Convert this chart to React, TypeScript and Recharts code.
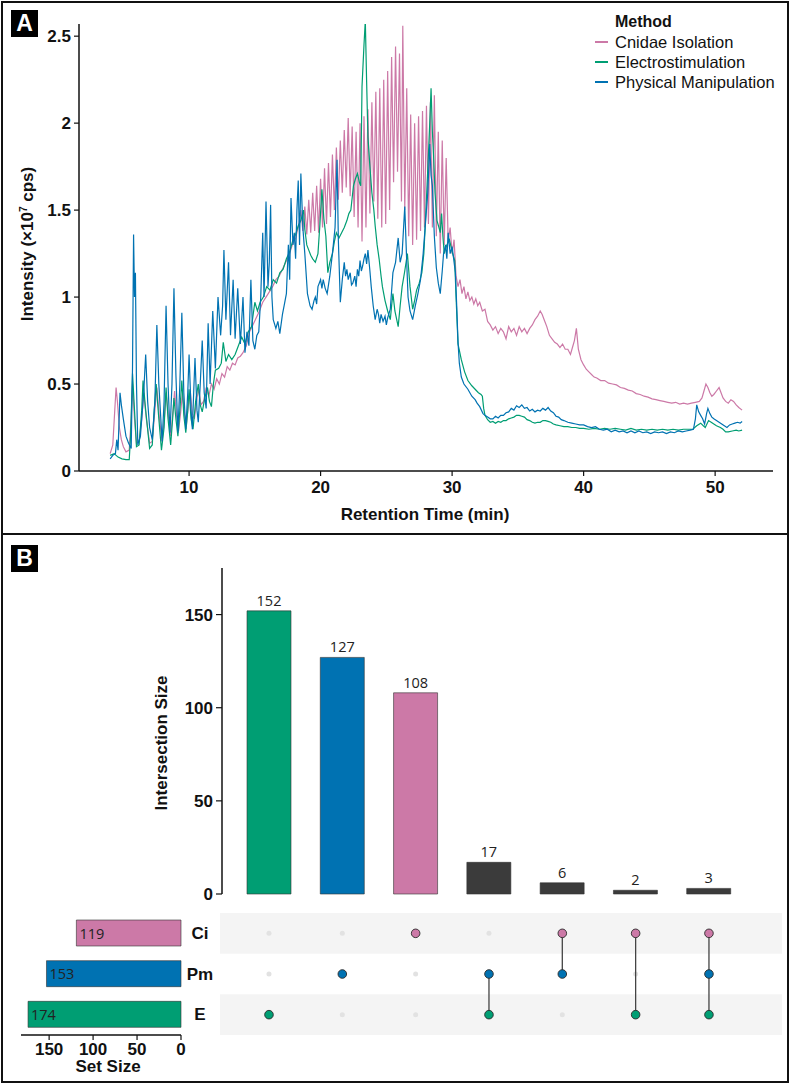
import React from 'react';
import {
  LineChart,
  Line,
  XAxis,
  YAxis,
  BarChart,
  Bar,
  Cell,
  LabelList,
  ScatterChart,
  Scatter,
  ReferenceArea,
} from 'recharts';

const FONT = '"Liberation Sans", Arial, Helvetica, sans-serif';
const NUM_FONT = '"Open Sans", "Noto Sans", sans-serif';

const PINK = '#CC79A7';
const GREEN = '#009E73';
const BLUE = '#0072B2';
const DARK = '#3b3b3b';
const INK = '#111';

// Panel A: chromatograms, [retention time (min), intensity (x10^7 cps)]
const cnidaeIsolation: [number, number][] = [
  [4.0, 0.1], [4.2, 0.15], [4.35, 0.35], [4.45, 0.48], [4.55, 0.4], [4.7, 0.25], [4.85, 0.18], [5.0, 0.14],
  [5.2, 0.11], [5.45, 0.12], [5.6, 0.3], [5.7, 0.5], [5.85, 0.3], [6.0, 0.16], [6.2, 0.17], [6.4, 0.3],
  [6.55, 0.45], [6.75, 0.3], [7.0, 0.16], [7.2, 0.17], [7.4, 0.35], [7.55, 0.48], [7.75, 0.3], [7.95, 0.17],
  [8.1, 0.28], [8.25, 0.45], [8.45, 0.3], [8.6, 0.2], [8.75, 0.32], [8.9, 0.46], [9.05, 0.32], [9.2, 0.23],
  [9.35, 0.33], [9.5, 0.45], [9.65, 0.33], [9.8, 0.27], [9.95, 0.38], [10.1, 0.45], [10.25, 0.33], [10.4, 0.3],
  [10.6, 0.42], [10.75, 0.47], [10.9, 0.38], [11.1, 0.4], [11.3, 0.48], [11.5, 0.43], [11.7, 0.5], [11.9, 0.47],
  [12.1, 0.53], [12.3, 0.5], [12.5, 0.56], [12.7, 0.54], [12.9, 0.6], [13.1, 0.58], [13.3, 0.62], [13.5, 0.61],
  [13.7, 0.65], [13.9, 0.66], [14.1, 0.68], [14.35, 0.72], [14.6, 0.8], [14.85, 0.84], [15.1, 0.88], [15.35, 0.92],
  [15.6, 0.97], [15.85, 1.0], [16.1, 1.03], [16.35, 1.06], [16.6, 1.1], [16.85, 1.12], [17.1, 1.16], [17.35, 1.2],
  [17.6, 1.24], [17.85, 1.3], [18.1, 1.34], [18.35, 1.42],
  [18.5, 1.5], [18.65, 1.38], [18.8, 1.52], [18.95, 1.36], [19.1, 1.56], [19.25, 1.37], [19.4, 1.6], [19.55, 1.38],
  [19.7, 1.64], [19.85, 1.37], [20.0, 1.68], [20.15, 1.4], [20.3, 1.74], [20.45, 1.42], [20.6, 1.77], [20.75, 1.46],
  [20.9, 1.82], [21.05, 1.5], [21.2, 1.86], [21.35, 1.56], [21.5, 1.9], [21.65, 1.6], [21.8, 1.96], [21.95, 1.63],
  [22.1, 2.03], [22.25, 1.58], [22.4, 1.98], [22.55, 1.46], [22.7, 1.95], [22.85, 1.4], [23.0, 2.0], [23.15, 1.32],
  [23.3, 2.04], [23.45, 1.4], [23.6, 2.08], [23.75, 1.48], [23.9, 2.12], [24.05, 1.55], [24.2, 2.18], [24.35, 1.45],
  [24.5, 2.2], [24.65, 1.4], [24.8, 2.25], [24.95, 1.42], [25.1, 2.3], [25.25, 1.5], [25.4, 2.38], [25.55, 1.66],
  [25.7, 2.44], [25.85, 1.72], [26.0, 2.4], [26.15, 1.55], [26.25, 2.56], [26.4, 1.5], [26.55, 2.2], [26.7, 1.35],
  [26.85, 2.05], [27.0, 1.3], [27.15, 2.0], [27.3, 1.33], [27.45, 2.04], [27.6, 1.38], [27.75, 2.07], [27.9, 1.4],
  [28.05, 2.1], [28.2, 1.42], [28.35, 2.12], [28.5, 1.4], [28.65, 2.16], [28.8, 1.35], [28.95, 1.95], [29.1, 1.25],
  [29.25, 1.9], [29.4, 1.3], [29.55, 1.8], [29.7, 1.32], [29.85, 1.4], [30.0, 1.25], [30.15, 1.33], [30.3, 1.12],
  [30.45, 1.06], [30.6, 1.1], [30.75, 1.02], [30.9, 1.06], [31.05, 0.99], [31.2, 1.03], [31.35, 0.98], [31.5, 1.0],
  [31.65, 0.96], [31.8, 0.99], [31.95, 0.95], [32.1, 0.97], [32.3, 0.92], [32.5, 0.93], [32.7, 0.86], [32.9, 0.84],
  [33.1, 0.81], [33.3, 0.83], [33.5, 0.79], [33.7, 0.82], [33.9, 0.8], [34.1, 0.76], [34.3, 0.83], [34.5, 0.8],
  [34.7, 0.82], [34.9, 0.78], [35.1, 0.83], [35.3, 0.8], [35.5, 0.82], [35.7, 0.79], [35.9, 0.82], [36.1, 0.84],
  [36.3, 0.87], [36.5, 0.89], [36.7, 0.92], [36.85, 0.9], [37.0, 0.87], [37.2, 0.83], [37.4, 0.78], [37.6, 0.76],
  [37.8, 0.74], [38.0, 0.73], [38.2, 0.71], [38.4, 0.73], [38.6, 0.7], [38.8, 0.7], [39.0, 0.67], [39.15, 0.71],
  [39.3, 0.75], [39.45, 0.82], [39.6, 0.7], [39.8, 0.64], [40.0, 0.61], [40.2, 0.585], [40.4, 0.57], [40.6, 0.555],
  [40.8, 0.54], [41.0, 0.535], [41.3, 0.52], [41.6, 0.52], [41.9, 0.505], [42.2, 0.5], [42.5, 0.495], [42.8, 0.48],
  [43.1, 0.475], [43.4, 0.465], [43.7, 0.46], [44.0, 0.445], [44.3, 0.44], [44.6, 0.43], [44.9, 0.425], [45.2, 0.415],
  [45.5, 0.41], [45.8, 0.405], [46.1, 0.4], [46.4, 0.395], [46.7, 0.39], [47.0, 0.395], [47.3, 0.385], [47.6, 0.39],
  [47.9, 0.385], [48.2, 0.39], [48.5, 0.395], [48.8, 0.4], [49.0, 0.42], [49.15, 0.46], [49.3, 0.5], [49.45, 0.48],
  [49.6, 0.45], [49.75, 0.43], [49.9, 0.44], [50.1, 0.46], [50.3, 0.48], [50.45, 0.45], [50.6, 0.42], [50.8, 0.4],
  [51.0, 0.39], [51.2, 0.41], [51.4, 0.4], [51.6, 0.38], [51.8, 0.365], [52.05, 0.35],
];

const electrostimulation: [number, number][] = [
  [4.0, 0.09], [4.3, 0.1], [4.6, 0.08], [4.9, 0.07], [5.2, 0.065], [5.45, 0.065], [5.55, 0.2], [5.7, 0.56],
  [5.85, 0.35], [6.0, 0.14], [6.2, 0.15], [6.4, 0.35], [6.5, 0.52], [6.7, 0.35], [7.0, 0.13], [7.2, 0.15],
  [7.35, 0.35], [7.5, 0.5], [7.7, 0.3], [7.9, 0.12], [8.1, 0.25], [8.25, 0.48], [8.4, 0.3], [8.6, 0.15],
  [8.75, 0.3], [8.85, 0.42], [9.0, 0.3], [9.15, 0.2], [9.3, 0.35], [9.45, 0.52], [9.6, 0.32], [9.75, 0.22],
  [9.9, 0.35], [10.0, 0.47], [10.15, 0.3], [10.3, 0.24], [10.5, 0.4], [10.7, 0.5], [10.85, 0.38], [11.0, 0.34],
  [11.2, 0.42], [11.4, 0.48], [11.55, 0.4], [11.7, 0.37], [11.85, 0.5], [12.0, 0.58], [12.25, 0.59], [12.45, 0.62],
  [12.6, 0.74], [12.8, 0.63], [13.0, 0.67], [13.25, 0.64], [13.5, 0.67], [13.75, 0.72], [14.0, 0.77], [14.25, 0.73],
  [14.5, 0.8], [14.75, 0.83], [15.0, 0.97], [15.2, 0.92], [15.4, 0.97], [15.65, 1.0], [15.9, 1.06], [16.15, 1.04],
  [16.4, 1.1], [16.65, 1.08], [16.9, 1.14], [17.15, 1.16], [17.4, 1.22], [17.65, 1.26], [17.9, 1.33], [18.1, 1.36],
  [18.3, 1.41], [18.5, 1.44], [18.7, 1.5], [18.8, 1.39], [18.95, 1.3], [19.1, 1.27], [19.25, 1.24], [19.4, 1.22],
  [19.6, 1.2], [19.8, 1.25], [19.95, 1.42], [20.1, 1.62], [20.25, 1.45], [20.4, 1.35], [20.55, 1.14], [20.7, 1.2],
  [20.9, 1.25], [21.05, 1.32], [21.2, 1.37], [21.4, 1.34], [21.6, 1.37], [21.8, 1.4], [22.0, 1.44], [22.15, 1.48],
  [22.3, 1.5], [22.5, 1.64], [22.65, 1.68], [22.8, 1.71], [22.95, 1.66], [23.05, 1.64], [23.15, 2.21], [23.3, 2.45],
  [23.4, 2.59], [23.5, 2.24], [23.6, 1.92], [23.75, 1.75], [23.9, 1.6], [24.05, 1.5], [24.15, 1.41], [24.3, 1.3],
  [24.45, 1.22], [24.6, 1.12], [24.7, 1.06], [24.9, 0.98], [25.1, 0.92], [25.3, 0.87], [25.4, 0.95], [25.5, 1.02],
  [25.65, 0.92], [25.9, 0.83], [26.05, 0.95], [26.2, 1.06], [26.4, 1.15], [26.6, 1.25], [26.8, 1.06], [27.0, 0.93],
  [27.15, 0.98], [27.3, 1.04], [27.5, 1.08], [27.7, 1.14], [27.85, 1.25], [27.95, 1.4], [28.1, 1.65], [28.2, 1.82],
  [28.3, 2.0], [28.4, 2.2], [28.5, 1.95], [28.6, 1.8], [28.7, 1.6], [28.85, 1.44], [29.0, 1.4], [29.1, 1.37],
  [29.2, 1.48], [29.3, 1.35], [29.4, 1.25], [29.6, 1.3], [29.8, 1.33], [30.0, 1.26], [30.2, 1.21], [30.3, 1.0],
  [30.45, 0.73], [30.7, 0.64], [30.95, 0.57], [31.2, 0.52], [31.5, 0.49], [31.75, 0.47], [32.0, 0.45], [32.2, 0.44],
  [32.3, 0.43], [32.4, 0.36], [32.5, 0.32], [32.7, 0.295], [32.9, 0.28], [33.1, 0.285], [33.3, 0.275], [33.5, 0.285],
  [33.7, 0.28], [33.9, 0.29], [34.1, 0.29], [34.3, 0.3], [34.5, 0.305], [34.7, 0.31], [34.9, 0.32], [35.1, 0.32],
  [35.3, 0.315], [35.5, 0.31], [35.7, 0.295], [35.9, 0.29], [36.1, 0.28], [36.3, 0.275], [36.5, 0.28], [36.7, 0.28],
  [36.9, 0.29], [37.1, 0.29], [37.3, 0.285], [37.5, 0.28], [37.7, 0.27], [37.9, 0.265], [38.2, 0.26], [38.5, 0.255],
  [38.8, 0.255], [39.1, 0.25], [39.4, 0.25], [39.7, 0.245], [40.0, 0.245], [40.4, 0.24], [40.8, 0.245], [41.2, 0.24],
  [41.6, 0.245], [42.0, 0.24], [42.4, 0.245], [42.8, 0.24], [43.2, 0.235], [43.6, 0.245], [44.0, 0.235], [44.4, 0.24],
  [44.8, 0.235], [45.2, 0.24], [45.6, 0.235], [46.0, 0.24], [46.4, 0.235], [46.8, 0.24], [47.2, 0.235], [47.6, 0.24],
  [48.0, 0.24], [48.3, 0.24], [48.6, 0.26], [48.9, 0.275], [49.1, 0.26], [49.25, 0.25], [49.5, 0.29], [49.7, 0.28],
  [49.9, 0.27], [50.1, 0.26], [50.4, 0.25], [50.6, 0.24], [50.8, 0.225], [51.0, 0.225], [51.3, 0.23], [51.6, 0.235],
  [51.8, 0.23], [52.05, 0.235],
];

const physicalManipulation: [number, number][] = [
  [4.0, 0.07], [4.2, 0.09], [4.4, 0.1], [4.5, 0.18], [4.6, 0.12], [4.75, 0.45], [4.85, 0.38], [5.0, 0.3],
  [5.2, 0.2], [5.4, 0.16], [5.6, 0.13], [5.7, 0.6], [5.78, 1.36], [5.85, 1.0], [5.92, 1.14], [6.0, 0.5],
  [6.1, 0.15], [6.3, 0.2], [6.55, 0.45], [6.7, 0.67], [6.85, 0.4], [7.0, 0.25], [7.2, 0.18], [7.4, 0.4],
  [7.55, 0.84], [7.7, 0.5], [7.95, 0.17], [8.1, 0.4], [8.25, 0.95], [8.4, 0.5], [8.55, 0.22], [8.7, 0.5],
  [8.85, 1.05], [9.0, 0.55], [9.15, 0.22], [9.3, 0.5], [9.45, 0.91], [9.6, 0.45], [9.75, 0.24], [9.9, 0.45],
  [10.0, 0.67], [10.15, 0.35], [10.25, 0.24], [10.35, 0.45], [10.45, 0.65], [10.6, 0.35], [10.7, 0.28], [10.85, 0.5],
  [11.0, 0.75], [11.15, 0.45], [11.3, 0.36], [11.45, 0.85], [11.6, 0.5], [11.8, 0.92], [12.0, 0.59], [12.2, 1.0],
  [12.4, 0.78], [12.55, 0.95], [12.65, 1.27], [12.8, 0.87], [13.0, 1.2], [13.15, 0.78], [13.35, 1.1], [13.5, 0.76],
  [13.7, 1.05], [13.9, 0.73], [14.1, 1.0], [14.25, 0.68], [14.4, 0.8], [14.55, 0.72], [14.7, 1.1], [14.85, 0.75],
  [15.0, 0.7], [15.15, 0.78], [15.3, 0.8], [15.45, 1.0], [15.6, 1.37], [15.7, 1.0], [15.85, 1.55], [16.0, 1.06],
  [16.1, 1.2], [16.2, 1.53], [16.3, 1.0], [16.4, 0.87], [16.6, 0.82], [16.75, 0.86], [16.9, 0.79], [17.1, 0.9],
  [17.25, 0.96], [17.4, 1.02], [17.55, 1.3], [17.65, 1.1], [17.75, 1.57], [17.9, 1.3], [18.0, 1.37], [18.1, 1.22],
  [18.2, 1.5], [18.3, 1.67], [18.4, 1.3], [18.5, 1.71], [18.65, 1.4], [18.8, 1.25], [19.0, 1.02], [19.2, 0.95],
  [19.35, 0.93], [19.5, 0.98], [19.6, 1.0], [19.7, 0.96], [19.8, 1.06], [20.0, 1.1], [20.1, 1.05], [20.2, 1.1],
  [20.35, 1.05], [20.5, 1.02], [20.7, 1.12], [20.9, 1.25], [21.1, 1.4], [21.25, 1.79], [21.35, 1.33], [21.5, 0.97],
  [21.65, 1.1], [21.8, 1.2], [21.9, 1.12], [22.0, 1.16], [22.1, 1.1], [22.25, 1.14], [22.35, 1.07], [22.45, 1.08],
  [22.6, 1.12], [22.7, 1.06], [22.8, 1.16], [22.9, 1.12], [23.0, 1.21], [23.1, 1.15], [23.2, 1.18], [23.3, 1.22],
  [23.4, 1.25], [23.5, 1.19], [23.6, 1.27], [23.75, 1.15], [23.85, 1.06], [24.0, 0.95], [24.15, 0.87], [24.3, 0.93],
  [24.4, 0.9], [24.5, 0.85], [24.6, 0.9], [24.75, 0.86], [24.9, 0.89], [25.0, 0.84], [25.1, 0.88], [25.3, 0.93],
  [25.5, 1.14], [25.7, 1.2], [25.9, 1.34], [26.05, 1.2], [26.2, 1.25], [26.4, 1.52], [26.55, 1.2], [26.65, 1.0],
  [26.8, 0.92], [27.0, 0.87], [27.2, 0.95], [27.4, 1.02], [27.6, 1.1], [27.8, 1.25], [28.0, 1.45], [28.15, 1.6],
  [28.3, 1.88], [28.4, 1.7], [28.5, 1.64], [28.65, 1.35], [28.8, 1.17], [28.95, 1.08], [29.1, 1.02], [29.25, 1.15],
  [29.35, 1.25], [29.5, 1.3], [29.6, 1.22], [29.7, 1.37], [29.85, 1.25], [30.0, 1.29], [30.15, 1.2], [30.25, 1.14],
  [30.35, 0.95], [30.45, 0.74], [30.55, 0.62], [30.7, 0.54], [30.9, 0.5], [31.2, 0.47], [31.5, 0.43], [31.75, 0.41],
  [31.9, 0.39], [32.1, 0.37], [32.35, 0.33], [32.5, 0.32], [32.7, 0.31], [32.9, 0.3], [33.1, 0.3], [33.3, 0.315],
  [33.5, 0.305], [33.7, 0.32], [33.9, 0.32], [34.1, 0.335], [34.3, 0.34], [34.5, 0.36], [34.7, 0.35], [34.9, 0.375],
  [35.1, 0.365], [35.3, 0.38], [35.5, 0.36], [35.7, 0.365], [35.9, 0.345], [36.1, 0.355], [36.3, 0.34], [36.5, 0.35],
  [36.7, 0.345], [36.9, 0.36], [37.1, 0.35], [37.3, 0.365], [37.5, 0.345], [37.7, 0.335], [37.9, 0.315], [38.1, 0.31],
  [38.3, 0.295], [38.5, 0.29], [38.8, 0.28], [39.1, 0.275], [39.4, 0.27], [39.7, 0.265], [40.0, 0.265], [40.3, 0.255],
  [40.6, 0.25], [40.9, 0.255], [41.2, 0.24], [41.5, 0.235], [41.8, 0.24], [42.1, 0.225], [42.4, 0.235], [42.7, 0.225],
  [43.0, 0.23], [43.3, 0.22], [43.6, 0.23], [43.9, 0.22], [44.2, 0.23], [44.5, 0.22], [44.8, 0.225], [45.1, 0.215],
  [45.4, 0.225], [45.7, 0.22], [46.0, 0.225], [46.3, 0.215], [46.6, 0.225], [46.9, 0.22], [47.2, 0.23], [47.5, 0.225],
  [47.8, 0.23], [48.1, 0.235], [48.35, 0.24], [48.5, 0.3], [48.6, 0.38], [48.75, 0.34], [48.9, 0.32], [49.05, 0.3],
  [49.2, 0.27], [49.35, 0.33], [49.45, 0.36], [49.6, 0.33], [49.75, 0.31], [49.9, 0.3], [50.1, 0.29], [50.3, 0.28],
  [50.5, 0.27], [50.7, 0.26], [50.9, 0.25], [51.1, 0.265], [51.3, 0.27], [51.5, 0.275], [51.7, 0.28], [51.9, 0.275],
  [52.05, 0.285],
];

const rtTicks = [10, 20, 30, 40, 50];
const intensityTicks = [0, 0.5, 1, 1.5, 2, 2.5];

// Panel B: UpSet plot
const setNames = ['Ci', 'Pm', 'E'];
const setSizes = [119, 153, 174];
const intersectionSets = [['E'], ['Pm'], ['Ci'], ['Pm', 'E'], ['Ci', 'Pm'], ['Ci', 'E'], ['Ci', 'Pm', 'E']];
const intersectionSizes = [152, 127, 108, 17, 6, 2, 3];
const intersectionTicks = [0, 50, 100, 150];
const setSizeTicks = [0, 50, 100, 150];

const setColors: Record<string, string> = { Ci: PINK, Pm: BLUE, E: GREEN };
const rowIndex: Record<string, number> = { Ci: 2, Pm: 1, E: 0 };

const methods = [
  { name: 'Cnidae Isolation', color: PINK, rows: cnidaeIsolation },
  { name: 'Electrostimulation', color: GREEN, rows: electrostimulation },
  { name: 'Physical Manipulation', color: BLUE, rows: physicalManipulation },
];

const intersectionData = intersectionSets.map((sets, i) => ({
  key: sets.join('&'),
  size: intersectionSizes[i],
  color: sets.length === 1 ? setColors[sets[0]] : DARK,
}));

const setData = setNames.map((name, i) => ({ name, size: setSizes[i], color: setColors[name] }));

const matrixPoints = intersectionSets.flatMap((sets, col) =>
  setNames.map((name) => ({ x: col, y: rowIndex[name], on: sets.includes(name), color: setColors[name] }))
);
const connectors = intersectionSets
  .map((sets, col) => {
    const rows = sets.map((s) => rowIndex[s]);
    return [
      { x: col, y: Math.max(...rows) },
      { x: col, y: Math.min(...rows) },
    ];
  })
  .filter((seg, i) => intersectionSets[i].length > 1);

const MATRIX_X: [number, number] = [-0.668, 6.996];

const tickText = { fontFamily: FONT, fontSize: 17, fontWeight: 700, fill: INK };
const axisStroke = { stroke: INK, strokeWidth: 1.5 };
const tickStroke = { stroke: INK, strokeWidth: 1.2 };

const PanelTag = ({ letter, top }: { letter: string; top: number }) => (
  <div
    style={{
      position: 'absolute',
      left: 11,
      top,
      width: 27,
      height: 27,
      background: '#000',
      color: '#fff',
      fontFamily: FONT,
      fontWeight: 700,
      fontSize: 23,
      lineHeight: '27px',
      textAlign: 'center',
    }}
  >
    {letter}
  </div>
);

const Title = ({ x, y, rotate, children }: { x: number; y: number; rotate?: boolean; children: React.ReactNode }) => (
  <div
    style={{
      position: 'absolute',
      left: x,
      top: y,
      transform: `translate(-50%, -50%)${rotate ? ' rotate(-90deg)' : ''}`,
      whiteSpace: 'nowrap',
      fontFamily: FONT,
      fontWeight: 700,
      fontSize: 17,
      color: INK,
    }}
  >
    {children}
  </div>
);

const SetTick = (props: any) => {
  const { x, y, payload } = props;
  return (
    <text x={x + 11} y={y} textAnchor="middle" dominantBaseline="central" {...tickText}>
      {payload.value}
    </text>
  );
};

const SetSizeLabel = (props: any) => {
  const vb = props.viewBox && props.viewBox.width !== undefined ? props.viewBox : props;
  const { x, y, width, height } = vb;
  const left = Math.min(x, x + width);
  return (
    <text x={left + 3} y={y + height / 2} dominantBaseline="central" fontFamily={NUM_FONT} fontSize={14.5} fill="#222">
      {props.value}
    </text>
  );
};

const ActiveDot = (props: any) => (
  <circle cx={props.cx} cy={props.cy} r={4.3} fill={props.payload.color} stroke="#2a2a2a" strokeWidth={0.9} />
);
const InactiveDot = (props: any) => <circle cx={props.cx} cy={props.cy} r={2.5} fill="#e2e2e2" />;

export default function App() {
  return (
    <div style={{ position: 'absolute', left: 0, top: 0, width: 790, height: 1085, background: '#fff', overflow: 'hidden' }}>
      {/* Panel A */}
      <div style={{ position: 'absolute', left: 0, top: 0 }}>
        <LineChart width={790} height={535} margin={{ top: 24, right: 17, bottom: 29, left: 19 }}>
          <XAxis
            type="number"
            dataKey="t"
            domain={[1.63, 54.4]}
            ticks={rtTicks}
            allowDataOverflow
            height={35}
            tickSize={5}
            tickMargin={5}
            tick={tickText}
            axisLine={axisStroke}
            tickLine={tickStroke}
          />
          <YAxis
            type="number"
            domain={[0, 2.57]}
            ticks={intensityTicks}
            allowDataOverflow
            width={60}
            tickSize={5}
            tickMargin={3}
            tick={tickText}
            axisLine={axisStroke}
            tickLine={tickStroke}
          />
          {methods.map((m) => (
            <Line
              key={m.name}
              name={m.name}
              data={m.rows.map(([t, v]) => ({ t, v }))}
              dataKey="v"
              type="linear"
              stroke={m.color}
              strokeWidth={1.2}
              dot={false}
              activeDot={false}
              isAnimationActive={false}
            />
          ))}
        </LineChart>
      </div>

      <div style={{ position: 'absolute', left: 595, top: 12, fontFamily: FONT, color: INK }}>
        <div style={{ height: 20, lineHeight: '20px', paddingLeft: 20, fontWeight: 700, fontSize: 16 }}>Method</div>
        {methods.map((m) => (
          <div key={m.name} style={{ height: 20, display: 'flex', alignItems: 'center', fontSize: 16.5 }}>
            <span style={{ width: 13, height: 2, background: m.color, marginRight: 7, display: 'inline-block' }} />
            {m.name}
          </div>
        ))}
      </div>

      <Title x={425} y={515}>Retention Time (min)</Title>
      <Title x={28} y={244} rotate>
        Intensity (×10<sup style={{ fontSize: '0.6em', verticalAlign: '0.6em', lineHeight: 0 }}>7</sup> cps)
      </Title>

      {/* Panel B: intersection sizes */}
      <div style={{ position: 'absolute', left: 0, top: 535 }}>
        <BarChart width={790} height={380} data={intersectionData} margin={{ top: 33, right: 28, bottom: 21, left: 162 }}>
          <XAxis
            dataKey="key"
            type="category"
            height={0}
            tick={false}
            tickLine={false}
            padding={{ left: 10, right: 17 }}
            axisLine={axisStroke}
          />
          <YAxis
            type="number"
            domain={[0, 175]}
            ticks={intersectionTicks}
            width={60}
            tickSize={6}
            tickMargin={3}
            tick={tickText}
            axisLine={axisStroke}
            tickLine={tickStroke}
          />
          <Bar dataKey="size" barSize={44} stroke="#333" strokeWidth={0.6} isAnimationActive={false}>
            {intersectionData.map((d) => (
              <Cell key={d.key} fill={d.color} />
            ))}
            <LabelList dataKey="size" position="top" offset={5} fill="#222" fontFamily={NUM_FONT} fontSize={14.5} />
          </Bar>
        </BarChart>
      </div>
      <Title x={162} y={743} rotate>Intersection Size</Title>

      {/* Panel B: membership matrix */}
      <div style={{ position: 'absolute', left: 0, top: 900 }}>
        <ScatterChart width={790} height={150} margin={{ top: 13, right: 8, bottom: 15, left: 220 }}>
          <XAxis type="number" dataKey="x" domain={MATRIX_X} hide />
          <YAxis type="number" dataKey="y" domain={[-0.5, 2.5]} hide />
          <ReferenceArea x1={MATRIX_X[0]} x2={MATRIX_X[1]} y1={1.5} y2={2.5} fill="#f4f4f4" fillOpacity={1} stroke="none" />
          <ReferenceArea x1={MATRIX_X[0]} x2={MATRIX_X[1]} y1={-0.5} y2={0.5} fill="#f4f4f4" fillOpacity={1} stroke="none" />
          <Scatter data={matrixPoints.filter((p) => !p.on)} shape={InactiveDot} isAnimationActive={false} />
          {connectors.map((seg, i) => (
            <Scatter
              key={`seg-${i}`}
              data={seg}
              line={{ stroke: '#444', strokeWidth: 1.3 }}
              shape={() => <g />}
              isAnimationActive={false}
            />
          ))}
          <Scatter data={matrixPoints.filter((p) => p.on)} shape={ActiveDot} isAnimationActive={false} />
        </ScatterChart>
      </div>

      {/* Panel B: set sizes */}
      <div style={{ position: 'absolute', left: 0, top: 900 }}>
        <BarChart
          layout="vertical"
          width={230}
          height={185}
          data={setData}
          margin={{ top: 13, right: 0, bottom: 20, left: 21 }}
        >
          <XAxis
            type="number"
            domain={[0, 182]}
            reversed
            ticks={setSizeTicks}
            height={30}
            tickSize={5}
            tickMargin={3}
            tick={tickText}
            axisLine={axisStroke}
            tickLine={tickStroke}
          />
          <YAxis
            type="category"
            dataKey="name"
            orientation="right"
            width={49}
            axisLine={false}
            tickLine={false}
            tick={SetTick}
          />
          <Bar dataKey="size" barSize={26} stroke="#333" strokeWidth={0.6} isAnimationActive={false}>
            {setData.map((d) => (
              <Cell key={d.name} fill={d.color} />
            ))}
            <LabelList dataKey="size" content={SetSizeLabel} />
          </Bar>
        </BarChart>
      </div>
      <Title x={108} y={1067}>Set Size</Title>

      <PanelTag letter="A" top={10} />
      <PanelTag letter="B" top={545} />

      {/* frame */}
      <div style={{ position: 'absolute', left: 1, top: 1, width: 788, height: 1082, border: '2px solid #111', boxSizing: 'border-box' }} />
      <div style={{ position: 'absolute', left: 1, top: 533, width: 788, height: 2, background: '#111' }} />
    </div>
  );
}
